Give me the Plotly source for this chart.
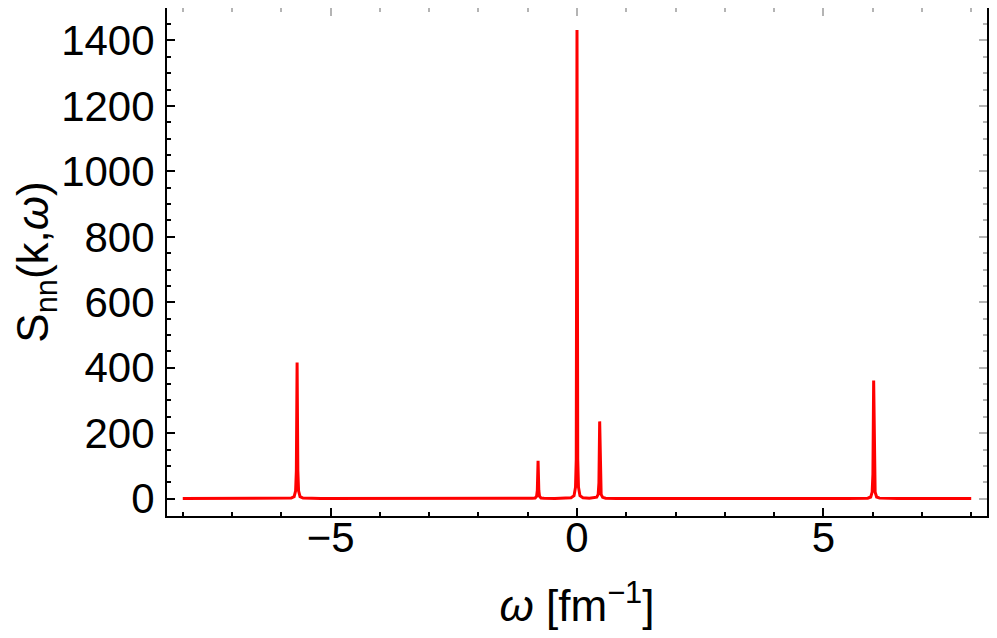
import plotly.graph_objects as go

# omega [fm^-1] and S_nn(k, omega)
omega = [-8.0, -7.0, -6.2,
         -5.80, -5.74, -5.71, -5.695, -5.68, -5.665, -5.65, -5.62, -5.56, -5.2,
         -4.0, -3.0, -2.0, -1.1,
         -0.91, -0.85, -0.82, -0.805, -0.79, -0.775, -0.76, -0.73, -0.67, -0.45,
         -0.25, -0.12, -0.06, -0.03, -0.015, 0.0, 0.015, 0.03, 0.06, 0.12, 0.25,
         0.34, 0.40, 0.43, 0.445, 0.46, 0.475, 0.49, 0.52, 0.58, 0.8,
         1.5, 3.0, 4.5, 5.5,
         5.90, 5.96, 5.99, 6.005, 6.02, 6.035, 6.05, 6.08, 6.14, 6.5,
         7.2, 8.0]
s_nn = [0.3, 0.4, 0.6,
        1.8, 6, 24, 85, 416, 85, 24, 6, 1.8, 0.6,
        0.3, 0.3, 0.3, 0.5,
        0.9, 2, 7, 25, 116, 25, 7, 2, 0.9, 0.7,
        1.2, 3, 9, 35, 120, 1432, 120, 35, 9, 3, 1.6,
        2.6, 4.5, 13, 48, 236, 48, 13, 4, 1.3, 0.6,
        0.3, 0.3, 0.4, 0.6,
        1.6, 5, 20, 75, 361, 75, 20, 5, 1.6, 0.6,
        0.4, 0.3]

x_range = [-8.32, 8.32]
y_range = [-53, 1499]

font = "Liberation Sans, Arial, sans-serif"
grey = "#b4b4b4"

fig = go.Figure()

fig.add_trace(
    go.Scatter(
        x=omega,
        y=s_nn,
        mode="lines",
        line=dict(color="#ff0000", width=3),
        showlegend=False,
        hoverinfo="skip",
    )
)

# empty trace so the grey mirror-tick axes get drawn
fig.add_trace(
    go.Scatter(x=[], y=[], xaxis="x2", yaxis="y2", showlegend=False, hoverinfo="skip")
)


def minor(dtick, color):
    return dict(ticks="inside", ticklen=4, tickwidth=1.5, tickcolor=color,
                dtick=dtick, tick0=0, showgrid=False)


# the page body has an 8px margin, so the figure is a bit smaller than the window
fig.update_layout(
    width=981,
    height=622,
    margin=dict(l=159, r=2, t=0, b=114, autoexpand=False),
    paper_bgcolor="white",
    plot_bgcolor="white",
    font=dict(family=font, size=42, color="black"),
    xaxis=dict(
        range=x_range,
        automargin=False,
        showgrid=False,
        zeroline=False,
        showline=True,
        linecolor="black",
        linewidth=2,
        mirror=True,
        ticks="inside",
        ticklen=8,
        tickwidth=1.5,
        tickcolor="black",
        tick0=0,
        dtick=5,
        minor=minor(1, "black"),
        tickfont=dict(size=42),
        ticklabelstandoff=-16,
        title=dict(text="<i>ω</i> [fm<sup>−1</sup>]", font=dict(size=44), standoff=31),
    ),
    yaxis=dict(
        range=y_range,
        automargin=False,
        showgrid=False,
        zeroline=False,
        showline=True,
        linecolor="black",
        linewidth=2,
        mirror=True,
        ticks="inside",
        ticklen=8,
        tickwidth=1.5,
        tickcolor="black",
        tick0=0,
        dtick=200,
        minor=minor(50, "black"),
        tickfont=dict(size=42),
        ticklabelstandoff=2,
        title=dict(text="S<sub>nn</sub>(k,<i>ω</i>)", font=dict(size=44), standoff=8),
    ),
    xaxis2=dict(
        overlaying="x",
        side="top",
        range=x_range,
        automargin=False,
        showgrid=False,
        zeroline=False,
        showline=False,
        showticklabels=False,
        ticks="inside",
        ticklen=8,
        tickwidth=1.5,
        tickcolor=grey,
        tick0=0,
        dtick=5,
        minor=minor(1, grey),
    ),
    yaxis2=dict(
        overlaying="y",
        side="right",
        range=y_range,
        automargin=False,
        showgrid=False,
        zeroline=False,
        showline=False,
        showticklabels=False,
        ticks="inside",
        ticklen=8,
        tickwidth=1.5,
        tickcolor=grey,
        tick0=0,
        dtick=200,
        minor=minor(50, grey),
    ),
)

fig.write_html("out.html")
